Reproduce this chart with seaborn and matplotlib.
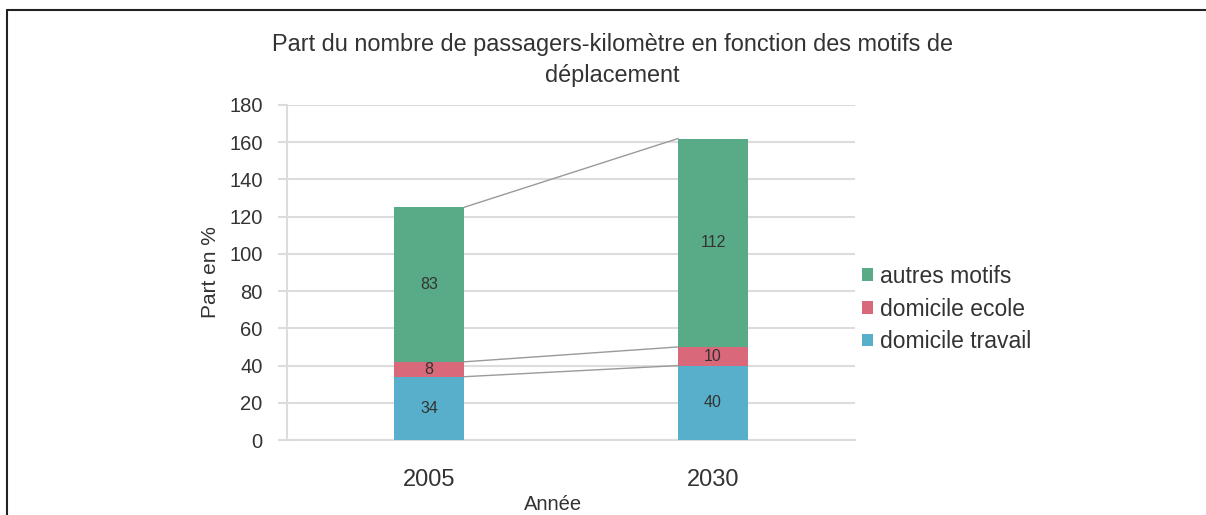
import numpy as np
import pandas as pd
import matplotlib
matplotlib.use("Agg")
import matplotlib.pyplot as plt
from matplotlib.patches import Patch
from matplotlib.lines import Line2D
import seaborn as sns

# Data
annees = ["2005", "2030"]
motifs = ["domicile travail", "domicile ecole", "autres motifs"]
domicile_travail = [34, 40]
domicile_ecole = [8, 10]
autres_motifs = [83, 112]
y_ticks = [0, 20, 40, 60, 80, 100, 120, 140, 160, 180]

couleurs = {
    "domicile travail": "#57AFCB",
    "domicile ecole": "#D8687A",
    "autres motifs": "#58AB86",
}

sns.set_theme(style="white")
plt.rcParams["font.family"] = ["Liberation Sans", "DejaVu Sans"]
texte = "#333333"
grille = "#dcdcdc"

df = pd.DataFrame({
    "annee": annees,
    "domicile travail": domicile_travail,
    "domicile ecole": domicile_ecole,
    "autres motifs": autres_motifs,
})
# cumulative heights for stacking
df["c_travail"] = df["domicile travail"]
df["c_ecole"] = df["c_travail"] + df["domicile ecole"]
df["c_autres"] = df["c_ecole"] + df["autres motifs"]

W, H = 1206, 515
fig = plt.figure(figsize=(W / 100, H / 100), dpi=100)
ax = fig.add_axes([287 / W, 1 - 440 / H, (855 - 287) / W, (440 - 105) / H])

largeur = 0.246
for col, motif in [("c_autres", "autres motifs"), ("c_ecole", "domicile ecole"), ("c_travail", "domicile travail")]:
    sns.barplot(data=df, x="annee", y=col, color=couleurs[motif], saturation=1,
                width=largeur, errorbar=None, linewidth=0, ax=ax, zorder=3)

# value labels at segment centers
for i in range(len(annees)):
    bas = 0
    for motif in motifs:
        v = df.loc[i, motif]
        ax.text(i, bas + v / 2, f"{v}", ha="center", va="center",
                fontsize=11.5, color=texte, zorder=5)
        bas += v

# series lines linking the segment tops
for col in ["c_travail", "c_ecole", "c_autres"]:
    ax.plot([0 + largeur / 2, 1 - largeur / 2], df[col].values,
            color="#9a9a9a", linewidth=1.0, zorder=4)

ax.set_xlim(-0.5, 1.5)
ax.set_ylim(0, 180)
ax.set_yticks(y_ticks)
ax.yaxis.grid(True, color=grille, linewidth=1.5, zorder=0)
ax.set_axisbelow(True)
for s in ["top", "right"]:
    ax.spines[s].set_visible(False)
ax.spines["left"].set_color(grille)
ax.spines["left"].set_linewidth(1.5)
ax.spines["bottom"].set_color(grille)
ax.spines["bottom"].set_linewidth(1.5)
ax.tick_params(axis="y", left=True, length=6.5, width=1.5, color=grille,
               pad=11, labelsize=14.5, labelcolor=texte)
ax.tick_params(axis="x", bottom=False, length=0, pad=21, labelsize=17, labelcolor=texte)

ax.set_xlabel("Année", fontsize=14.5, color=texte)
ax.xaxis.set_label_coords(0.468, -0.165)
ax.set_ylabel("Part en %", fontsize=15, color=texte)
ax.yaxis.set_label_coords(-0.118, 0.5)

fig.text(612 / W, 1 - 60 / H,
         "Part du nombre de passagers-kilomètre en fonction des motifs de\ndéplacement",
         ha="center", va="center", fontsize=16.9, color=texte, linespacing=1.42)

poignees = [Patch(facecolor=couleurs[m], edgecolor="none") for m in reversed(motifs)]
fig.legend(poignees, list(reversed(motifs)), loc="center left",
           bbox_to_anchor=(862 / W, 1 - 309 / H), frameon=False,
           fontsize=16.5, handlelength=0.48, handleheight=0.48,
           handletextpad=0.3, labelspacing=0.42, borderpad=0, borderaxespad=0,
           labelcolor=texte)

# page frame: top and left rules
fig.add_artist(Line2D([7 / W, 1], [1 - 10 / H, 1 - 10 / H], color="#222222", linewidth=1.5))
fig.add_artist(Line2D([7 / W, 7 / W], [0, 1 - 10 / H], color="#222222", linewidth=1.5))

fig.savefig("out.png", dpi=100)
